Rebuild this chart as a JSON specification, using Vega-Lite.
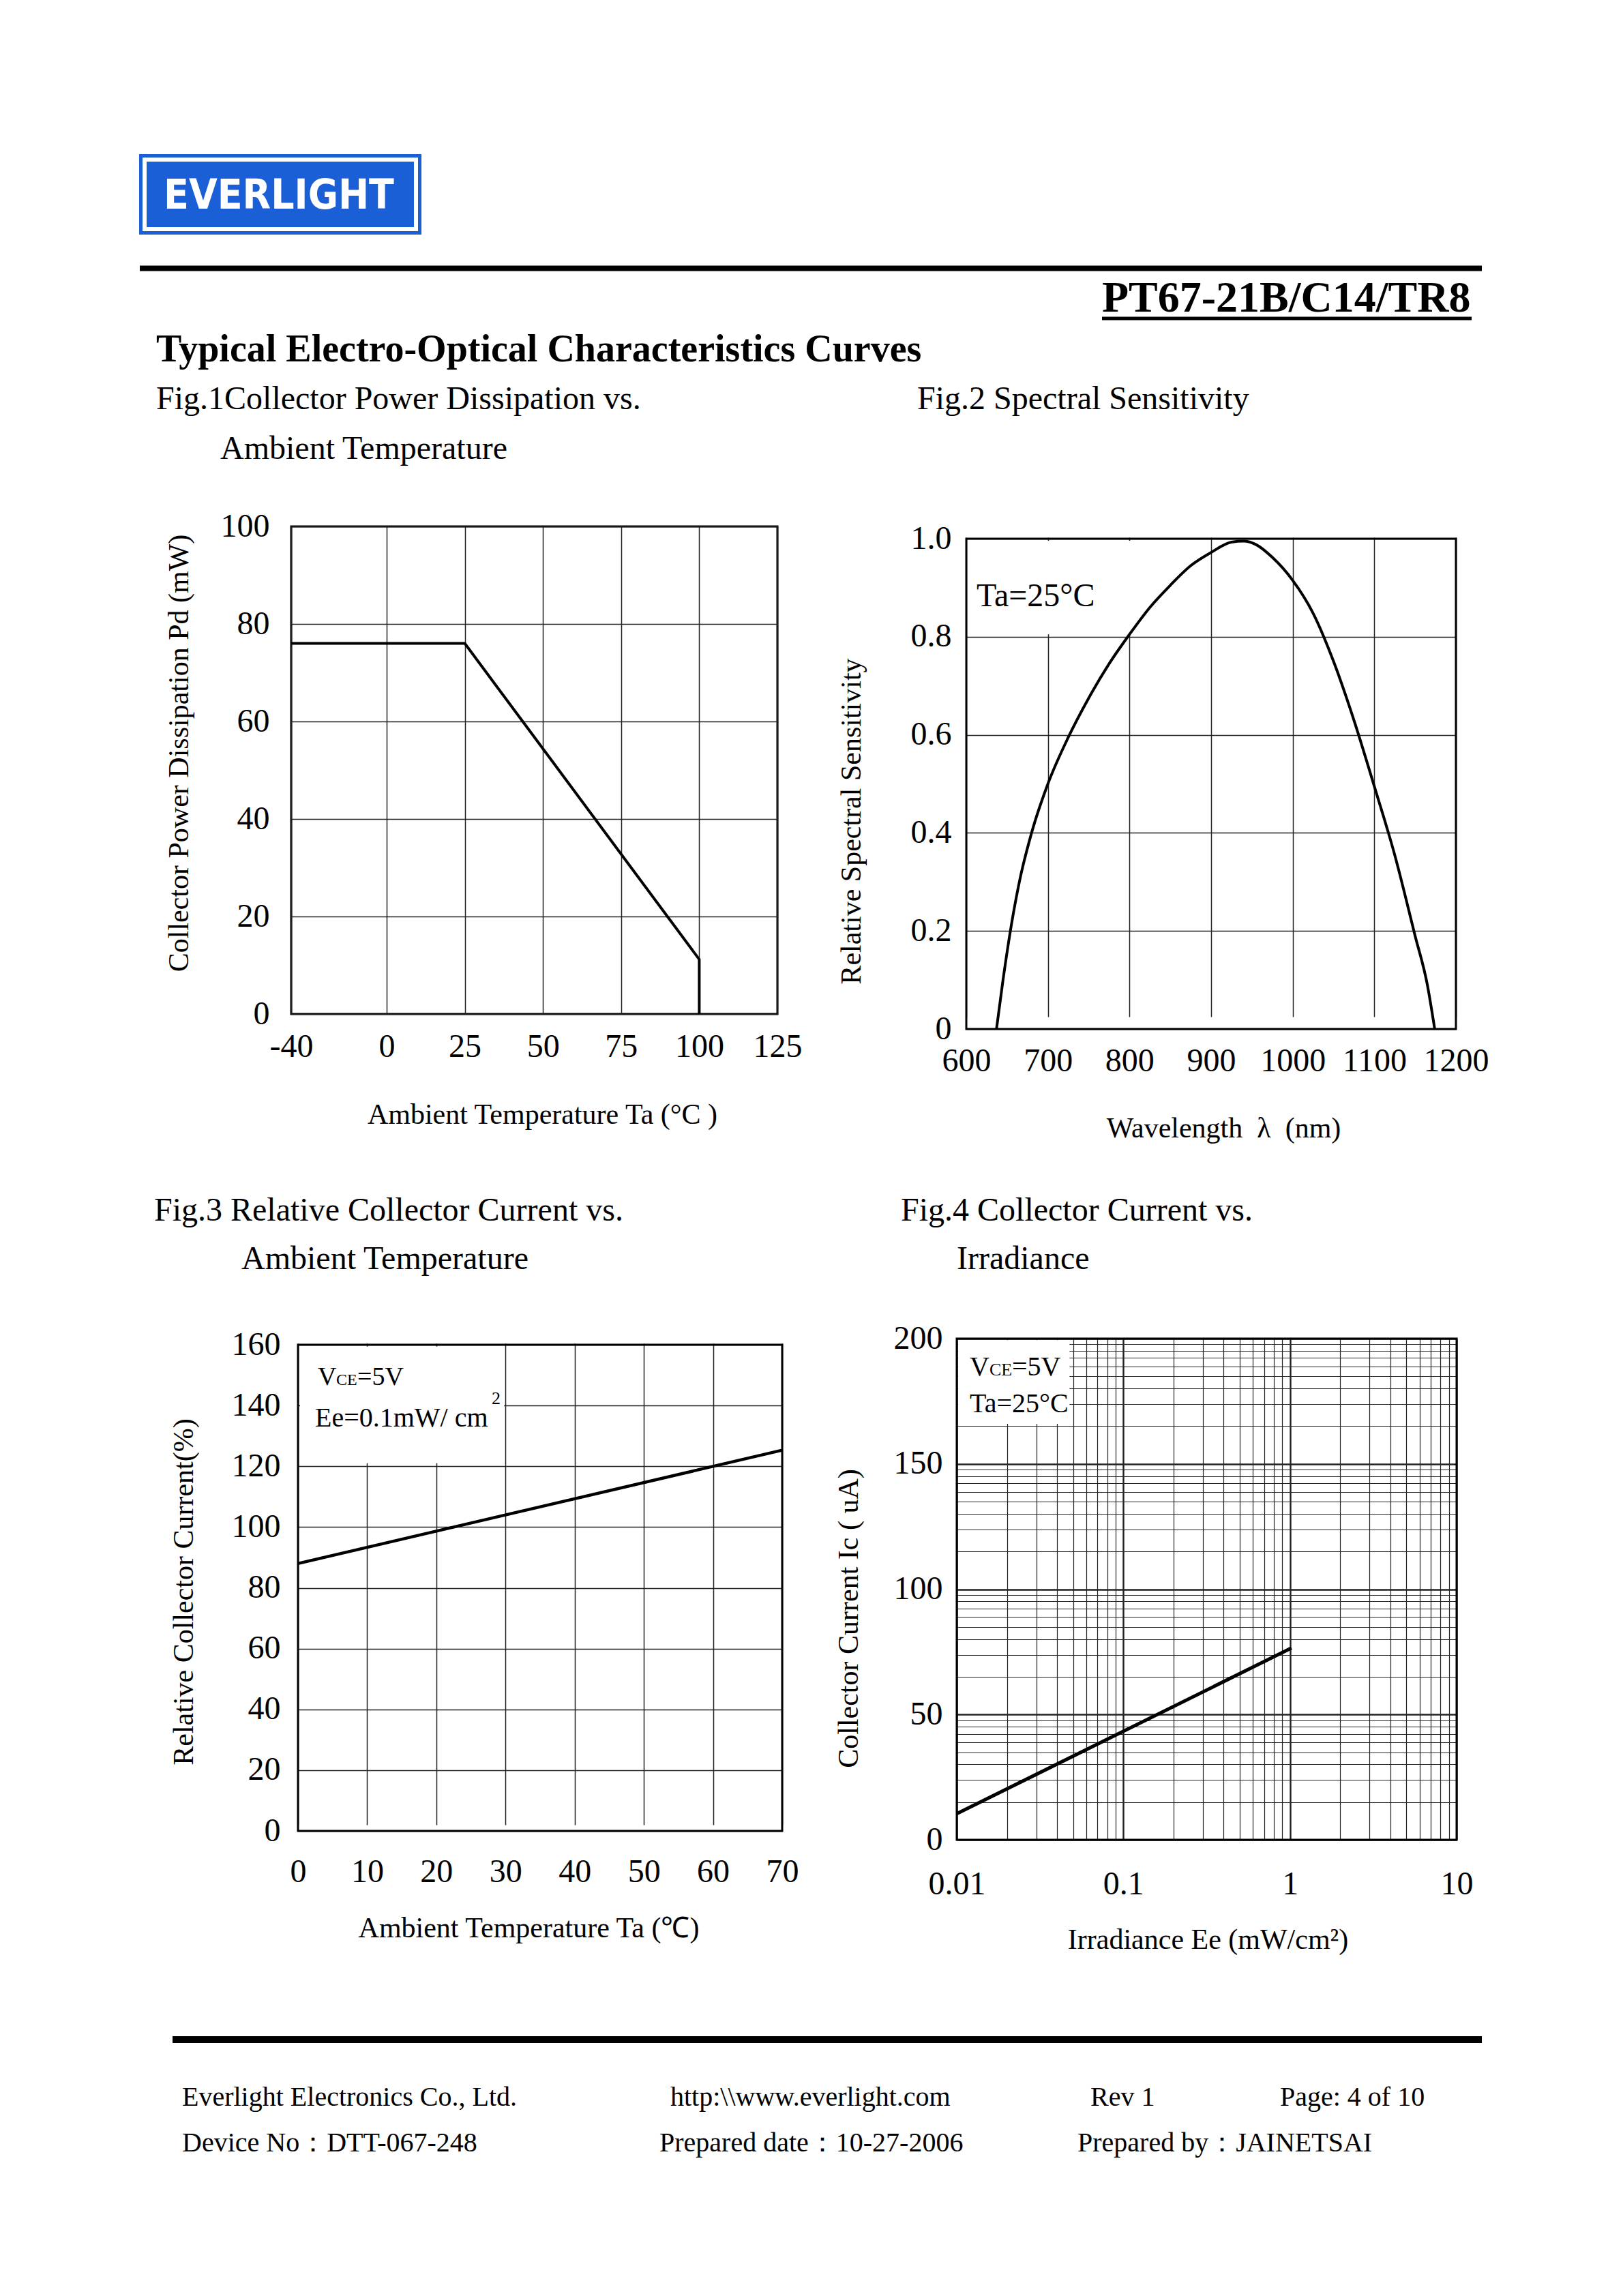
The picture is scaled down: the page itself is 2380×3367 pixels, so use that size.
{
  "$schema": "https://vega.github.io/schema/vega-lite/v6.json",
  "background": "white",
  "padding": {"left": 201, "top": 220, "right": 0, "bottom": 0},
  "config": {
    "view": {"stroke": null},
    "font": "Liberation Serif",
    "axis": {"domain": false, "ticks": false, "tickSize": 0, "grid": true, "gridColor": "#222222", "gridWidth": 1.5, "labelFont": "Liberation Serif", "labelFontSize": 48, "labelColor": "black", "labelFlush": false, "labelOverlap": false, "titleFont": "Liberation Serif", "titleFontSize": 42, "titleFontWeight": "normal", "titleColor": "black"},
    "text": {"font": "Liberation Serif", "color": "black"}
  },
  "columns": 2,
  "align": "each",
  "bounds": "flush",
  "spacing": {"row": 0, "column": 254},
  "concat": [
    {
      "width": 722, "height": 546,
      "data": {"values": [{"logo": "EVERLIGHT", "part": "PT67-21B/C14/TR8", "heading": "Typical Electro-Optical Characteristics Curves", "f1a": "Fig.1Collector Power Dissipation vs.", "f1b": "Ambient Temperature", "f2": "Fig.2 Spectral Sensitivity"}]},
      "layer": [
        {"mark": {"type": "rect", "fill": "#1b5fd6"},
         "encoding": {"x": {"datum": 203, "type": "quantitative", "scale": {"domain": [426, 1148], "nice": false, "zero": false}, "axis": null}, "x2": {"datum": 617},
                      "y": {"datum": 226, "type": "quantitative", "scale": {"domain": [226, 772], "reverse": true, "nice": false, "zero": false}, "axis": null}, "y2": {"datum": 344}}},
        {"mark": {"type": "rect", "filled": false, "stroke": "white", "strokeWidth": 6},
         "encoding": {"x": {"datum": 211, "type": "quantitative", "scale": {"domain": [426, 1148], "nice": false, "zero": false}, "axis": null}, "x2": {"datum": 609},
                      "y": {"datum": 234, "type": "quantitative", "scale": {"domain": [226, 772], "reverse": true, "nice": false, "zero": false}, "axis": null}, "y2": {"datum": 336}}},
        {"mark": {"type": "text", "align": "center", "baseline": "middle", "font": "DejaVu Sans Condensed", "fontWeight": "bold", "fontSize": 60, "fill": "white"},
         "encoding": {"text": {"field": "logo"}, "x": {"datum": 408, "type": "quantitative", "scale": {"domain": [426, 1148], "nice": false, "zero": false}, "axis": null},
                      "y": {"datum": 288, "type": "quantitative", "scale": {"domain": [226, 772], "reverse": true, "nice": false, "zero": false}, "axis": null}}},
        {"mark": {"type": "rule", "color": "black", "strokeWidth": 8},
         "encoding": {"x": {"datum": 204, "type": "quantitative", "scale": {"domain": [426, 1148], "nice": false, "zero": false}, "axis": null}, "x2": {"datum": 2172},
                      "y": {"datum": 393.5, "type": "quantitative", "scale": {"domain": [226, 772], "reverse": true, "nice": false, "zero": false}, "axis": null}}},
        {"mark": {"type": "text", "align": "left", "baseline": "alphabetic", "fontWeight": "bold", "fontSize": 64},
         "encoding": {"text": {"field": "part"}, "x": {"datum": 1615, "type": "quantitative", "scale": {"domain": [426, 1148], "nice": false, "zero": false}, "axis": null},
                      "y": {"datum": 457, "type": "quantitative", "scale": {"domain": [226, 772], "reverse": true, "nice": false, "zero": false}, "axis": null}}},
        {"mark": {"type": "rule", "color": "black", "strokeWidth": 5},
         "encoding": {"x": {"datum": 1615, "type": "quantitative", "scale": {"domain": [426, 1148], "nice": false, "zero": false}, "axis": null}, "x2": {"datum": 2157},
                      "y": {"datum": 467, "type": "quantitative", "scale": {"domain": [226, 772], "reverse": true, "nice": false, "zero": false}, "axis": null}}},
        {"mark": {"type": "text", "align": "left", "baseline": "alphabetic", "fontWeight": "bold", "fontSize": 56},
         "encoding": {"text": {"field": "heading"}, "x": {"datum": 228, "type": "quantitative", "scale": {"domain": [426, 1148], "nice": false, "zero": false}, "axis": null},
                      "y": {"datum": 530, "type": "quantitative", "scale": {"domain": [226, 772], "reverse": true, "nice": false, "zero": false}, "axis": null}}},
        {"mark": {"type": "text", "align": "left", "baseline": "alphabetic", "fontSize": 48},
         "encoding": {"text": {"field": "f1a"}, "x": {"datum": 228, "type": "quantitative", "scale": {"domain": [426, 1148], "nice": false, "zero": false}, "axis": null},
                      "y": {"datum": 600, "type": "quantitative", "scale": {"domain": [226, 772], "reverse": true, "nice": false, "zero": false}, "axis": null}}},
        {"mark": {"type": "text", "align": "left", "baseline": "alphabetic", "fontSize": 48},
         "encoding": {"text": {"field": "f1b"}, "x": {"datum": 322, "type": "quantitative", "scale": {"domain": [426, 1148], "nice": false, "zero": false}, "axis": null},
                      "y": {"datum": 673, "type": "quantitative", "scale": {"domain": [226, 772], "reverse": true, "nice": false, "zero": false}, "axis": null}}},
        {"mark": {"type": "text", "align": "left", "baseline": "alphabetic", "fontSize": 48},
         "encoding": {"text": {"field": "f2"}, "x": {"datum": 1344, "type": "quantitative", "scale": {"domain": [426, 1148], "nice": false, "zero": false}, "axis": null},
                      "y": {"datum": 600, "type": "quantitative", "scale": {"domain": [226, 772], "reverse": true, "nice": false, "zero": false}, "axis": null}}}
      ]
    },
    {"width": 1, "height": 1, "data": {"values": [{}]}, "mark": {"type": "text", "text": "", "opacity": 0}},

    {
      "width": 713, "height": 715,
      "view": {"stroke": "black", "strokeWidth": 3},
      "data": {"values": [{"ta": -40, "pd": 76}, {"ta": 25, "pd": 76}, {"ta": 100, "pd": 11.2}, {"ta": 100, "pd": 0}]},
      "mark": {"type": "line", "color": "black", "strokeWidth": 4},
      "encoding": {
        "x": {"field": "ta", "type": "quantitative", "scale": {"domain": [-40, 0, 125], "range": [0, 140, 713], "nice": false, "zero": false},
              "axis": {"values": [-40, 0, 25, 50, 75, 100, 125], "labelExpr": "datum.value == -40 ? '-40' : datum.label", "title": "Ambient Temperature Ta (°C )", "labelPadding": 24, "titlePadding": 55, "titleX": 368}},
        "y": {"field": "pd", "type": "quantitative", "scale": {"domain": [0, 100], "nice": false},
              "axis": {"values": [0, 20, 40, 60, 80, 100], "title": "Collector Power Dissipation Pd (mW)", "labelPadding": 32, "titlePadding": 39, "titleY": 332}}
      }
    },
    {
      "width": 732, "height": 737,
      "layer": [
        {"data": {"values": [{}]},
         "mark": {"type": "rect", "fill": "white"},
         "encoding": {
           "x": {"datum": 602.5, "type": "quantitative", "scale": {"domain": [600, 1200], "range": [14, 732], "nice": false, "zero": false},
                 "axis": {"values": [600, 700, 800, 900, 1000, 1100, 1200], "format": "d", "title": "Wavelength\u00a0\u00a0λ\u00a0\u00a0(nm)", "labelPadding": 23, "titlePadding": 54, "titleX": 391}},
           "x2": {"datum": 850},
           "y": {"datum": 0.805, "type": "quantitative", "scale": {"domain": [0, 1], "range": [737, 18], "nice": false},
                 "axis": {"values": [0, 0.2, 0.4, 0.6, 0.8, 1.0], "labelExpr": "datum.value == 0 ? '0' : format(datum.value, '.1f')", "title": "Relative Spectral Sensitivity", "labelPadding": 8, "titlePadding": 65, "titleY": 432}},
           "y2": {"datum": 0.996}}},
        {"data": {"values": [{}]},
         "mark": {"type": "rect", "fill": "white"},
         "encoding": {
           "x": {"datum": 598, "type": "quantitative", "scale": {"domain": [600, 1200], "range": [14, 732], "nice": false, "zero": false},
                 "axis": {"values": [600, 700, 800, 900, 1000, 1100, 1200], "format": "d", "title": "Wavelength\u00a0\u00a0λ\u00a0\u00a0(nm)", "labelPadding": 23, "titlePadding": 54, "titleX": 391}},
           "x2": {"datum": 1202},
           "y": {"datum": 1.0021, "type": "quantitative", "scale": {"domain": [0, 1], "range": [737, 18], "nice": false},
                 "axis": {"values": [0, 0.2, 0.4, 0.6, 0.8, 1.0], "labelExpr": "datum.value == 0 ? '0' : format(datum.value, '.1f')", "title": "Relative Spectral Sensitivity", "labelPadding": 8, "titlePadding": 65, "titleY": 432}},
           "y2": {"datum": 1.04}}},
        {"data": {"values": [{}]},
         "mark": {"type": "rect", "fill": "white"},
         "encoding": {
           "x": {"datum": 586, "type": "quantitative", "scale": {"domain": [600, 1200], "range": [14, 732], "nice": false, "zero": false},
                 "axis": {"values": [600, 700, 800, 900, 1000, 1100, 1200], "format": "d", "title": "Wavelength\u00a0\u00a0λ\u00a0\u00a0(nm)", "labelPadding": 23, "titlePadding": 54, "titleX": 391}},
           "x2": {"datum": 599.6},
           "y": {"datum": -0.002, "type": "quantitative", "scale": {"domain": [0, 1], "range": [737, 18], "nice": false},
                 "axis": {"values": [0, 0.2, 0.4, 0.6, 0.8, 1.0], "labelExpr": "datum.value == 0 ? '0' : format(datum.value, '.1f')", "title": "Relative Spectral Sensitivity", "labelPadding": 8, "titlePadding": 65, "titleY": 432}},
           "y2": {"datum": 1.04}}},
        {"data": {"values": [{}]},
         "mark": {"type": "rect", "filled": false, "stroke": "black", "strokeWidth": 3},
         "encoding": {
           "x": {"datum": 600, "type": "quantitative", "scale": {"domain": [600, 1200], "range": [14, 732], "nice": false, "zero": false},
                 "axis": {"values": [600, 700, 800, 900, 1000, 1100, 1200], "format": "d", "title": "Wavelength\u00a0\u00a0λ\u00a0\u00a0(nm)", "labelPadding": 23, "titlePadding": 54, "titleX": 391}},
           "x2": {"datum": 1200},
           "y": {"datum": 0, "type": "quantitative", "scale": {"domain": [0, 1], "range": [737, 18], "nice": false},
                 "axis": {"values": [0, 0.2, 0.4, 0.6, 0.8, 1.0], "labelExpr": "datum.value == 0 ? '0' : format(datum.value, '.1f')", "title": "Relative Spectral Sensitivity", "labelPadding": 8, "titlePadding": 65, "titleY": 432}},
           "y2": {"datum": 1}}},
        {"data": {"values": [
           {"wl": 637, "rs": 0}, {"wl": 645, "rs": 0.1}, {"wl": 655, "rs": 0.21}, {"wl": 665, "rs": 0.3},
           {"wl": 680, "rs": 0.4}, {"wl": 700, "rs": 0.5}, {"wl": 725, "rs": 0.595}, {"wl": 750, "rs": 0.675},
           {"wl": 775, "rs": 0.745}, {"wl": 800, "rs": 0.805}, {"wl": 825, "rs": 0.86}, {"wl": 850, "rs": 0.905},
           {"wl": 875, "rs": 0.945}, {"wl": 900, "rs": 0.972}, {"wl": 925, "rs": 0.993}, {"wl": 940, "rs": 0.995},
           {"wl": 955, "rs": 0.988}, {"wl": 975, "rs": 0.962}, {"wl": 1000, "rs": 0.915}, {"wl": 1025, "rs": 0.848},
           {"wl": 1050, "rs": 0.75}, {"wl": 1075, "rs": 0.63}, {"wl": 1100, "rs": 0.495}, {"wl": 1125, "rs": 0.355},
           {"wl": 1150, "rs": 0.19}, {"wl": 1165, "rs": 0.09}, {"wl": 1174, "rs": 0}]},
         "mark": {"type": "line", "color": "black", "strokeWidth": 4, "interpolate": "monotone"},
         "encoding": {
           "x": {"field": "wl", "type": "quantitative", "scale": {"domain": [600, 1200], "range": [14, 732], "nice": false, "zero": false},
                 "axis": {"values": [600, 700, 800, 900, 1000, 1100, 1200], "format": "d", "title": "Wavelength\u00a0\u00a0λ\u00a0\u00a0(nm)", "labelPadding": 23, "titlePadding": 54, "titleX": 391}},
           "y": {"field": "rs", "type": "quantitative", "scale": {"domain": [0, 1], "range": [737, 18], "nice": false},
                 "axis": {"values": [0, 0.2, 0.4, 0.6, 0.8, 1.0], "labelExpr": "datum.value == 0 ? '0' : format(datum.value, '.1f')", "title": "Relative Spectral Sensitivity", "labelPadding": 8, "titlePadding": 65, "titleY": 432}}
         }},
        {"data": {"values": [{"note": "Ta=25°C"}]},
         "mark": {"type": "text", "align": "left", "baseline": "alphabetic", "fontSize": 48},
         "encoding": {"text": {"field": "note"},
           "x": {"datum": 612.5, "type": "quantitative", "scale": {"domain": [600, 1200], "range": [14, 732], "nice": false, "zero": false},
                 "axis": {"values": [600, 700, 800, 900, 1000, 1100, 1200], "format": "d", "title": "Wavelength\u00a0\u00a0λ\u00a0\u00a0(nm)", "labelPadding": 23, "titlePadding": 54, "titleX": 391}},
           "y": {"datum": 0.862, "type": "quantitative", "scale": {"domain": [0, 1], "range": [737, 18], "nice": false},
                 "axis": {"values": [0, 0.2, 0.4, 0.6, 0.8, 1.0], "labelExpr": "datum.value == 0 ? '0' : format(datum.value, '.1f')", "title": "Relative Spectral Sensitivity", "labelPadding": 8, "titlePadding": 65, "titleY": 432}}}}
      ]
    },

    {
      "width": 722, "height": 454,
      "data": {"values": [{"f3a": "Fig.3 Relative Collector Current vs.", "f3b": "Ambient Temperature", "f4a": "Fig.4 Collector Current vs.", "f4b": "Irradiance"}]},
      "layer": [
        {"mark": {"type": "text", "align": "left", "baseline": "alphabetic", "fontSize": 48},
         "encoding": {"text": {"field": "f3a"}, "x": {"datum": 225, "type": "quantitative", "scale": {"domain": [426, 1148], "nice": false, "zero": false}, "axis": null},
                      "y": {"datum": 1790, "type": "quantitative", "scale": {"domain": [1509, 1963], "reverse": true, "nice": false, "zero": false}, "axis": null}}},
        {"mark": {"type": "text", "align": "left", "baseline": "alphabetic", "fontSize": 48},
         "encoding": {"text": {"field": "f3b"}, "x": {"datum": 353, "type": "quantitative", "scale": {"domain": [426, 1148], "nice": false, "zero": false}, "axis": null},
                      "y": {"datum": 1861, "type": "quantitative", "scale": {"domain": [1509, 1963], "reverse": true, "nice": false, "zero": false}, "axis": null}}},
        {"mark": {"type": "text", "align": "left", "baseline": "alphabetic", "fontSize": 48},
         "encoding": {"text": {"field": "f4a"}, "x": {"datum": 1320, "type": "quantitative", "scale": {"domain": [426, 1148], "nice": false, "zero": false}, "axis": null},
                      "y": {"datum": 1790, "type": "quantitative", "scale": {"domain": [1509, 1963], "reverse": true, "nice": false, "zero": false}, "axis": null}}},
        {"mark": {"type": "text", "align": "left", "baseline": "alphabetic", "fontSize": 48},
         "encoding": {"text": {"field": "f4b"}, "x": {"datum": 1402, "type": "quantitative", "scale": {"domain": [426, 1148], "nice": false, "zero": false}, "axis": null},
                      "y": {"datum": 1861, "type": "quantitative", "scale": {"domain": [1509, 1963], "reverse": true, "nice": false, "zero": false}, "axis": null}}}
      ]
    },
    {"width": 1, "height": 454, "data": {"values": [{}]}, "mark": {"type": "text", "text": "", "opacity": 0}},

    {
      "width": 720, "height": 722,
      "layer": [
        {"data": {"values": [{}]},
         "mark": {"type": "rect", "fill": "white"},
         "encoding": {
           "x": {"datum": 0.3, "type": "quantitative", "scale": {"domain": [0, 70], "range": [10, 720], "nice": false},
                 "axis": {"values": [0, 10, 20, 30, 40, 50, 60, 70], "title": "Ambient Temperature Ta (℃)", "labelPadding": 36, "titlePadding": 38, "titleX": 348}},
           "x2": {"datum": 29.8},
           "y": {"datum": 121, "type": "quantitative", "scale": {"domain": [0, 160], "range": [722, 9], "nice": false},
                 "axis": {"values": [0, 20, 40, 60, 80, 100, 120, 140, 160], "title": "Relative Collector Current(%)", "labelPadding": 16, "titlePadding": 48, "titleY": 371}},
           "y2": {"datum": 159.4}}},
        {"data": {"values": [{}]},
         "mark": {"type": "rect", "fill": "white"},
         "encoding": {
           "x": {"datum": -1.2, "type": "quantitative", "scale": {"domain": [0, 70], "range": [10, 720], "nice": false},
                 "axis": {"values": [0, 10, 20, 30, 40, 50, 60, 70], "title": "Ambient Temperature Ta (℃)", "labelPadding": 36, "titlePadding": 38, "titleX": 348}},
           "x2": {"datum": 70.3},
           "y": {"datum": 160.34, "type": "quantitative", "scale": {"domain": [0, 160], "range": [722, 9], "nice": false},
                 "axis": {"values": [0, 20, 40, 60, 80, 100, 120, 140, 160], "title": "Relative Collector Current(%)", "labelPadding": 16, "titlePadding": 48, "titleY": 371}},
           "y2": {"datum": 162.5}}},
        {"data": {"values": [{}]},
         "mark": {"type": "rect", "fill": "white"},
         "encoding": {
           "x": {"datum": -1.2, "type": "quantitative", "scale": {"domain": [0, 70], "range": [10, 720], "nice": false},
                 "axis": {"values": [0, 10, 20, 30, 40, 50, 60, 70], "title": "Ambient Temperature Ta (℃)", "labelPadding": 36, "titlePadding": 38, "titleX": 348}},
           "x2": {"datum": -0.14},
           "y": {"datum": -0.3, "type": "quantitative", "scale": {"domain": [0, 160], "range": [722, 9], "nice": false},
                 "axis": {"values": [0, 20, 40, 60, 80, 100, 120, 140, 160], "title": "Relative Collector Current(%)", "labelPadding": 16, "titlePadding": 48, "titleY": 371}},
           "y2": {"datum": 162.5}}},
        {"data": {"values": [{}]},
         "mark": {"type": "rect", "filled": false, "stroke": "black", "strokeWidth": 3},
         "encoding": {
           "x": {"datum": 0, "type": "quantitative", "scale": {"domain": [0, 70], "range": [10, 720], "nice": false},
                 "axis": {"values": [0, 10, 20, 30, 40, 50, 60, 70], "title": "Ambient Temperature Ta (℃)", "labelPadding": 36, "titlePadding": 38, "titleX": 348}},
           "x2": {"datum": 70},
           "y": {"datum": 0, "type": "quantitative", "scale": {"domain": [0, 160], "range": [722, 9], "nice": false},
                 "axis": {"values": [0, 20, 40, 60, 80, 100, 120, 140, 160], "title": "Relative Collector Current(%)", "labelPadding": 16, "titlePadding": 48, "titleY": 371}},
           "y2": {"datum": 160}}},
        {"data": {"values": [{"ta": 0, "ic": 88}, {"ta": 70, "ic": 125.3}]},
         "mark": {"type": "line", "color": "black", "strokeWidth": 4.5},
         "encoding": {
           "x": {"field": "ta", "type": "quantitative", "scale": {"domain": [0, 70], "range": [10, 720], "nice": false},
                 "axis": {"values": [0, 10, 20, 30, 40, 50, 60, 70], "title": "Ambient Temperature Ta (℃)", "labelPadding": 36, "titlePadding": 38, "titleX": 348}},
           "y": {"field": "ic", "type": "quantitative", "scale": {"domain": [0, 160], "range": [722, 9], "nice": false},
                 "axis": {"values": [0, 20, 40, 60, 80, 100, 120, 140, 160], "title": "Relative Collector Current(%)", "labelPadding": 16, "titlePadding": 48, "titleY": 371}}
         }},
        {"data": {"values": [{"t": "V", "c": "CE", "e": "=5V", "ee": "Ee=0.1mW/ cm", "sq": "2"}]},
         "encoding": {
           "x": {"datum": 2.86, "type": "quantitative", "scale": {"domain": [0, 70], "range": [10, 720], "nice": false},
                 "axis": {"values": [0, 10, 20, 30, 40, 50, 60, 70], "title": "Ambient Temperature Ta (℃)", "labelPadding": 36, "titlePadding": 38, "titleX": 348}},
           "y": {"datum": 146.8, "type": "quantitative", "scale": {"domain": [0, 160], "range": [722, 9], "nice": false},
                 "axis": {"values": [0, 20, 40, 60, 80, 100, 120, 140, 160], "title": "Relative Collector Current(%)", "labelPadding": 16, "titlePadding": 48, "titleY": 371}}},
         "layer": [
           {"mark": {"type": "text", "align": "left", "baseline": "alphabetic", "fontSize": 38}, "encoding": {"text": {"field": "t"}}},
           {"mark": {"type": "text", "align": "left", "baseline": "alphabetic", "fontSize": 24, "dx": 27}, "encoding": {"text": {"field": "c"}}},
           {"mark": {"type": "text", "align": "left", "baseline": "alphabetic", "fontSize": 38, "dx": 58}, "encoding": {"text": {"field": "e"}}},
           {"mark": {"type": "text", "align": "left", "baseline": "alphabetic", "fontSize": 40}, "encoding": {"text": {"field": "ee"}, "x": {"datum": 2.46}, "y": {"datum": 133.1}}},
           {"mark": {"type": "text", "align": "left", "baseline": "alphabetic", "fontSize": 26}, "encoding": {"text": {"field": "sq"}, "x": {"datum": 28.0}, "y": {"datum": 140.5}}}
         ]}
      ]
    },
    {
      "width": 733, "height": 735,
      "layer": [
        {"data": {"values": [{}]},
         "mark": {"type": "rect", "fill": "white"},
         "encoding": {
           "x": {"datum": 0.0102, "type": "quantitative", "scale": {"type": "log", "domain": [0.01, 10], "nice": false},
                 "axis": {"values": [0.01, 0.02, 0.03, 0.04, 0.05, 0.06, 0.07, 0.08, 0.09, 0.1, 0.2, 0.3, 0.4, 0.5, 0.6, 0.7, 0.8, 0.9, 1, 2, 3, 4, 5, 6, 7, 8, 9, 10],
                          "labelExpr": "datum.value == 0.01 ? '0.01' : datum.value == 0.1 ? '0.1' : datum.value == 1 ? '1' : datum.value == 10 ? '10' : ''",
                          "gridWidth": {"condition": {"test": "datum.value == 0.01 || datum.value == 0.1 || datum.value == 1 || datum.value == 10", "value": 2.4}, "value": 1.2},
                          "title": "Irradiance Ee (mW/cm²)", "labelPadding": 41, "titlePadding": 37, "titleX": 368}},
           "x2": {"datum": 0.0475},
           "y": {"datum": 166, "type": "quantitative", "scale": {"domain": [0, 200], "nice": false},
                 "axis": {"values": [0, 15.051, 23.856, 30.103, 34.949, 38.908, 42.255, 45.154, 47.712, 50, 65.051, 73.856, 80.103, 84.949, 88.908, 92.255, 95.154, 97.712, 100, 115.051, 123.856, 130.103, 134.949, 138.908, 142.255, 145.154, 147.712, 150, 165.051, 173.856, 180.103, 184.949, 188.908, 192.255, 195.154, 197.712, 200],
                          "labelExpr": "datum.value % 50 == 0 ? datum.label : ''",
                          "gridWidth": {"condition": {"test": "datum.value % 50 == 0", "value": 2.4}, "value": 1.2},
                          "title": "Collector Current Ic ( uA)", "labelPadding": 21, "titlePadding": 44, "titleY": 410}},
           "y2": {"datum": 199.4}}},
        {"data": {"values": [{}]},
         "mark": {"type": "rect", "filled": false, "stroke": "black", "strokeWidth": 3},
         "encoding": {
           "x": {"datum": 0.01, "type": "quantitative", "scale": {"type": "log", "domain": [0.01, 10], "nice": false},
                 "axis": {"values": [0.01, 0.02, 0.03, 0.04, 0.05, 0.06, 0.07, 0.08, 0.09, 0.1, 0.2, 0.3, 0.4, 0.5, 0.6, 0.7, 0.8, 0.9, 1, 2, 3, 4, 5, 6, 7, 8, 9, 10],
                          "labelExpr": "datum.value == 0.01 ? '0.01' : datum.value == 0.1 ? '0.1' : datum.value == 1 ? '1' : datum.value == 10 ? '10' : ''",
                          "gridWidth": {"condition": {"test": "datum.value == 0.01 || datum.value == 0.1 || datum.value == 1 || datum.value == 10", "value": 2.4}, "value": 1.2},
                          "title": "Irradiance Ee (mW/cm²)", "labelPadding": 41, "titlePadding": 37, "titleX": 368}},
           "x2": {"datum": 10},
           "y": {"datum": 0, "type": "quantitative", "scale": {"domain": [0, 200], "nice": false},
                 "axis": {"values": [0, 15.051, 23.856, 30.103, 34.949, 38.908, 42.255, 45.154, 47.712, 50, 65.051, 73.856, 80.103, 84.949, 88.908, 92.255, 95.154, 97.712, 100, 115.051, 123.856, 130.103, 134.949, 138.908, 142.255, 145.154, 147.712, 150, 165.051, 173.856, 180.103, 184.949, 188.908, 192.255, 195.154, 197.712, 200],
                          "labelExpr": "datum.value % 50 == 0 ? datum.label : ''",
                          "gridWidth": {"condition": {"test": "datum.value % 50 == 0", "value": 2.4}, "value": 1.2},
                          "title": "Collector Current Ic ( uA)", "labelPadding": 21, "titlePadding": 44, "titleY": 410}},
           "y2": {"datum": 200}}},
        {"data": {"values": [{"ee": 0.01, "ic": 10.4}, {"ee": 1.02, "ic": 76.5}]},
         "mark": {"type": "line", "color": "black", "strokeWidth": 5},
         "encoding": {
           "x": {"field": "ee", "type": "quantitative", "scale": {"type": "log", "domain": [0.01, 10], "nice": false},
                 "axis": {"values": [0.01, 0.02, 0.03, 0.04, 0.05, 0.06, 0.07, 0.08, 0.09, 0.1, 0.2, 0.3, 0.4, 0.5, 0.6, 0.7, 0.8, 0.9, 1, 2, 3, 4, 5, 6, 7, 8, 9, 10],
                          "labelExpr": "datum.value == 0.01 ? '0.01' : datum.value == 0.1 ? '0.1' : datum.value == 1 ? '1' : datum.value == 10 ? '10' : ''",
                          "gridWidth": {"condition": {"test": "datum.value == 0.01 || datum.value == 0.1 || datum.value == 1 || datum.value == 10", "value": 2.4}, "value": 1.2},
                          "title": "Irradiance Ee (mW/cm²)", "labelPadding": 41, "titlePadding": 37, "titleX": 368}},
           "y": {"field": "ic", "type": "quantitative", "scale": {"domain": [0, 200], "nice": false},
                 "axis": {"values": [0, 15.051, 23.856, 30.103, 34.949, 38.908, 42.255, 45.154, 47.712, 50, 65.051, 73.856, 80.103, 84.949, 88.908, 92.255, 95.154, 97.712, 100, 115.051, 123.856, 130.103, 134.949, 138.908, 142.255, 145.154, 147.712, 150, 165.051, 173.856, 180.103, 184.949, 188.908, 192.255, 195.154, 197.712, 200],
                          "labelExpr": "datum.value % 50 == 0 ? datum.label : ''",
                          "gridWidth": {"condition": {"test": "datum.value % 50 == 0", "value": 2.4}, "value": 1.2},
                          "title": "Collector Current Ic ( uA)", "labelPadding": 21, "titlePadding": 44, "titleY": 410}}
         }},
        {"data": {"values": [{"t": "V", "c": "CE", "e": "=5V", "ta": "Ta=25°C"}]},
         "encoding": {
           "x": {"datum": 0.01196, "type": "quantitative", "scale": {"type": "log", "domain": [0.01, 10], "nice": false},
                 "axis": {"values": [0.01, 0.02, 0.03, 0.04, 0.05, 0.06, 0.07, 0.08, 0.09, 0.1, 0.2, 0.3, 0.4, 0.5, 0.6, 0.7, 0.8, 0.9, 1, 2, 3, 4, 5, 6, 7, 8, 9, 10],
                          "labelExpr": "datum.value == 0.01 ? '0.01' : datum.value == 0.1 ? '0.1' : datum.value == 1 ? '1' : datum.value == 10 ? '10' : ''",
                          "gridWidth": {"condition": {"test": "datum.value == 0.01 || datum.value == 0.1 || datum.value == 1 || datum.value == 10", "value": 2.4}, "value": 1.2},
                          "title": "Irradiance Ee (mW/cm²)", "labelPadding": 41, "titlePadding": 37, "titleX": 368}},
           "y": {"datum": 185.3, "type": "quantitative", "scale": {"domain": [0, 200], "nice": false},
                 "axis": {"values": [0, 15.051, 23.856, 30.103, 34.949, 38.908, 42.255, 45.154, 47.712, 50, 65.051, 73.856, 80.103, 84.949, 88.908, 92.255, 95.154, 97.712, 100, 115.051, 123.856, 130.103, 134.949, 138.908, 142.255, 145.154, 147.712, 150, 165.051, 173.856, 180.103, 184.949, 188.908, 192.255, 195.154, 197.712, 200],
                          "labelExpr": "datum.value % 50 == 0 ? datum.label : ''",
                          "gridWidth": {"condition": {"test": "datum.value % 50 == 0", "value": 2.4}, "value": 1.2},
                          "title": "Collector Current Ic ( uA)", "labelPadding": 21, "titlePadding": 44, "titleY": 410}}},
         "layer": [
           {"mark": {"type": "text", "align": "left", "baseline": "alphabetic", "fontSize": 40}, "encoding": {"text": {"field": "t"}}},
           {"mark": {"type": "text", "align": "left", "baseline": "alphabetic", "fontSize": 26, "dx": 29}, "encoding": {"text": {"field": "c"}}},
           {"mark": {"type": "text", "align": "left", "baseline": "alphabetic", "fontSize": 40, "dx": 62}, "encoding": {"text": {"field": "e"}}},
           {"mark": {"type": "text", "align": "left", "baseline": "alphabetic", "fontSize": 40}, "encoding": {"text": {"field": "ta"}, "y": {"datum": 170.6}}}
         ]}
      ]
    },

    {
      "width": 722, "height": 500,
      "data": {"values": [{"a": "Everlight Electronics Co., Ltd.", "b": "http:\\\\www.everlight.com", "c": "Rev 1", "d": "Page: 4 of 10", "e": "Device No：DTT-067-248", "f": "Prepared date：10-27-2006", "g": "Prepared by：JAINETSAI"}]},
      "layer": [
        {"mark": {"type": "rule", "color": "black", "strokeWidth": 10},
         "encoding": {"x": {"datum": 252, "type": "quantitative", "scale": {"domain": [426, 1148], "nice": false, "zero": false}, "axis": null}, "x2": {"datum": 2172},
                      "y": {"datum": 2991, "type": "quantitative", "scale": {"domain": [2698, 3198], "reverse": true, "nice": false, "zero": false}, "axis": null}}},
        {"mark": {"type": "text", "align": "left", "baseline": "alphabetic", "fontSize": 40},
         "encoding": {"text": {"field": "a"}, "x": {"datum": 266, "type": "quantitative", "scale": {"domain": [426, 1148], "nice": false, "zero": false}, "axis": null},
                      "y": {"datum": 3088, "type": "quantitative", "scale": {"domain": [2698, 3198], "reverse": true, "nice": false, "zero": false}, "axis": null}}},
        {"mark": {"type": "text", "align": "left", "baseline": "alphabetic", "fontSize": 40},
         "encoding": {"text": {"field": "b"}, "x": {"datum": 982, "type": "quantitative", "scale": {"domain": [426, 1148], "nice": false, "zero": false}, "axis": null},
                      "y": {"datum": 3088, "type": "quantitative", "scale": {"domain": [2698, 3198], "reverse": true, "nice": false, "zero": false}, "axis": null}}},
        {"mark": {"type": "text", "align": "left", "baseline": "alphabetic", "fontSize": 40},
         "encoding": {"text": {"field": "c"}, "x": {"datum": 1598, "type": "quantitative", "scale": {"domain": [426, 1148], "nice": false, "zero": false}, "axis": null},
                      "y": {"datum": 3088, "type": "quantitative", "scale": {"domain": [2698, 3198], "reverse": true, "nice": false, "zero": false}, "axis": null}}},
        {"mark": {"type": "text", "align": "left", "baseline": "alphabetic", "fontSize": 40},
         "encoding": {"text": {"field": "d"}, "x": {"datum": 1876, "type": "quantitative", "scale": {"domain": [426, 1148], "nice": false, "zero": false}, "axis": null},
                      "y": {"datum": 3088, "type": "quantitative", "scale": {"domain": [2698, 3198], "reverse": true, "nice": false, "zero": false}, "axis": null}}},
        {"mark": {"type": "text", "align": "left", "baseline": "alphabetic", "fontSize": 40},
         "encoding": {"text": {"field": "e"}, "x": {"datum": 266, "type": "quantitative", "scale": {"domain": [426, 1148], "nice": false, "zero": false}, "axis": null},
                      "y": {"datum": 3155, "type": "quantitative", "scale": {"domain": [2698, 3198], "reverse": true, "nice": false, "zero": false}, "axis": null}}},
        {"mark": {"type": "text", "align": "left", "baseline": "alphabetic", "fontSize": 40},
         "encoding": {"text": {"field": "f"}, "x": {"datum": 966, "type": "quantitative", "scale": {"domain": [426, 1148], "nice": false, "zero": false}, "axis": null},
                      "y": {"datum": 3155, "type": "quantitative", "scale": {"domain": [2698, 3198], "reverse": true, "nice": false, "zero": false}, "axis": null}}},
        {"mark": {"type": "text", "align": "left", "baseline": "alphabetic", "fontSize": 40},
         "encoding": {"text": {"field": "g"}, "x": {"datum": 1579, "type": "quantitative", "scale": {"domain": [426, 1148], "nice": false, "zero": false}, "axis": null},
                      "y": {"datum": 3155, "type": "quantitative", "scale": {"domain": [2698, 3198], "reverse": true, "nice": false, "zero": false}, "axis": null}}}
      ]
    }
  ]
}
